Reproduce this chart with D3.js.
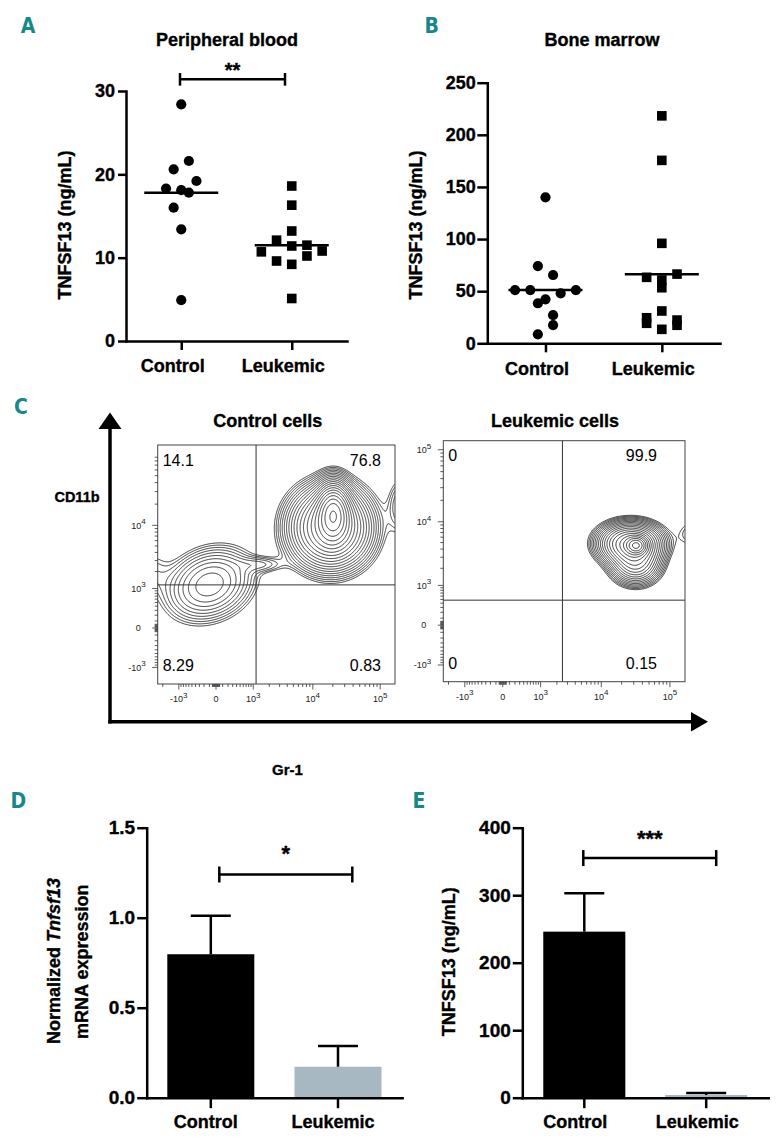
<!DOCTYPE html>
<html>
<head>
<meta charset="utf-8">
<script src="https://cdn.jsdelivr.net/npm/d3@7/dist/d3.min.js"></script>
<style>
  html,body{margin:0;padding:0;background:#fff;}
  svg{display:block;}
  .heavy{stroke:#000;stroke-width:0.35px;paint-order:stroke;}
</style>
</head>
<body>
<svg id="fig" width="782" height="1147" xmlns="http://www.w3.org/2000/svg"></svg>
<script>
// ================= DATA =================
const categories = ["Control", "Leukemic"];

// A – Peripheral blood, TNFSF13 (ng/mL)
const pbControl  = [4.9, 13.4, 16.0, 17.8, 18.3, 18.1, 19.2, 20.6, 21.6, 28.4];
const pbLeukemic = [5.1, 9.6, 9.2, 10.2, 10.7, 12.1, 11.4, 11.5, 10.8, 13.2, 16.3, 18.6];
const pbCentral  = [17.8, 11.5];
const pbTicks    = [0, 10, 20, 30];

// B – Bone marrow, TNFSF13 (ng/mL)
const bmControl  = [8.6, 17.5, 38.4, 27.0, 51.1, 51.1, 42.2, 47.9, 51.1, 74.1, 65.5, 140];
const bmLeukemic = [19.2, 13.4, 17.3, 24.5, 31.0, 22.3, 53.3, 63.3, 60.7, 66.4, 95.9, 175.5, 218.2];
const bmCentral  = [51.2, 66.3];
const bmTicks    = [0, 50, 100, 150, 200, 250];

// C – flow cytometry (Gr-1 vs CD11b)
const flowTitles   = ["Control cells", "Leukemic cells"];
const quadControl  = ["14.1", "76.8", "8.29", "0.83"];   // UL, UR, LL, LR
const quadLeukemic = ["0", "99.9", "0", "0.15"];
const gateControl  = [1140, 1170];                       // Gr-1 gate, CD11b gate
const gateLeukemic = [2480, 480];
const flowXTicks         = [-1000, 0, 1000, 10000, 100000];
const flowYTicksControl  = [-1000, 0, 1000, 10000];
const flowYTicksLeukemic = [-1000, 0, 1000, 10000, 100000];
const flowXDomain = [-2450, 165000];
const flowYDomain = [-1970, 133000];
// cell populations (centre intensities, spread in log units)
const popsControl = [
  {gr1: 18000,  cd11b: 9470,  sx: 0.74, sy: 0.70, angle: 0,  w: 1.00},
  {gr1: 20100,  cd11b: 15480, sx: 0.30, sy: 0.51, angle: 0,  w: 1.30},
  {gr1: -106,   cd11b: 1217,  sx: 0.87, sy: 0.62, angle: 24, w: 0.30},
  {gr1: 1481,   cd11b: 2653,  sx: 0.47, sy: 0.16, angle: 0,  w: 0.07},
  {gr1: 195000, cd11b: 19450, sx: 0.27, sy: 0.57, angle: 0,  w: 0.10},
  {gr1: -3280,  cd11b: 2120,  sx: 0.40, sy: 0.50, angle: 0,  w: 0.05}
];
const popsLeukemic = [
  {gr1: 26450,  cd11b: 4921, sx: 0.56, sy: 0.35, angle: 0, w: 1.00},
  {gr1: 31500,  cd11b: 2350, sx: 0.45, sy: 0.36, angle: 0, w: 0.45},
  {gr1: 32350,  cd11b: 4600, sx: 0.20, sy: 0.16, angle: 0, w: 1.20},
  {gr1: 208000, cd11b: 6890, sx: 0.33, sy: 0.30, angle: 0, w: 0.07}
];

// D – Normalized Tnfsf13 mRNA expression (mean, SEM)
const mrnaMean  = [0.797, 0.172];
const mrnaSem   = [0.214, 0.115];
const mrnaTicks = [0, 0.5, 1.0, 1.5];

// E – TNFSF13 (ng/mL) (mean, SEM)
const protMean  = [246, 4];
const protSem   = [57, 3];
const protTicks = [0, 100, 200, 300, 400];

const sigA = {label: "**",  value: 31.4};
const sigD = {label: "*",   value: 1.24};
const sigE = {label: "***", value: 355};

// ================= DRAWING =================
const svg = d3.select("#fig");
const FONT = '"Liberation Sans", Arial, Helvetica, sans-serif';
const TEAL = "#17888a";
const GREY_BAR = "#a8b8c2";
svg.append("rect").attr("width", 782).attr("height", 1147).attr("fill", "#fff");

function letter(t, cx, cy) {
  svg.append("text").attr("x", cx).attr("y", cy + 7.5).attr("text-anchor", "middle")
    .attr("font-family", '"Liberation Sans Narrow","DejaVu Sans Condensed","Liberation Sans",sans-serif')
    .attr("font-weight", "bold").attr("font-size", 21).attr("fill", TEAL).text(t);
}
function label(x, y, s, o = {}) {
  const w = o.weight || "bold";
  return svg.append("text").attr("x", x).attr("y", y)
    .attr("class", w === "bold" ? "heavy" : null)
    .attr("text-anchor", o.anchor || "middle")
    .attr("font-family", FONT).attr("font-size", o.size || 18)
    .attr("font-weight", w).attr("fill", o.fill || "#000").text(s);
}
function ylabel(cx, cy, s, size) {
  return svg.append("text").attr("transform", `translate(${cx},${cy}) rotate(-90)`)
    .attr("class", "heavy")
    .attr("dy", "0.35em").attr("text-anchor", "middle")
    .attr("font-family", FONT).attr("font-size", size || 18).attr("font-weight", "bold").text(s);
}
function styleAxis(g, fs, sw) {
  g.attr("font-family", FONT).attr("font-size", fs).attr("font-weight", "bold");
  g.select(".domain").attr("stroke", "#000").attr("stroke-width", sw).attr("stroke-linecap", "square");
  g.selectAll(".tick line").attr("stroke", "#000").attr("stroke-width", sw);
  g.selectAll(".tick text").attr("fill", "#000").attr("class", "heavy");
}
function bracket(x1, x2, yb, cap, txt, starCy, fs) {
  const g = svg.append("g").attr("stroke", "#000").attr("stroke-width", 2.5);
  g.append("line").attr("x1", x1).attr("x2", x2).attr("y1", yb).attr("y2", yb);
  g.append("line").attr("x1", x1).attr("x2", x1).attr("y1", yb - cap).attr("y2", yb + cap);
  g.append("line").attr("x1", x2).attr("x2", x2).attr("y1", yb - cap).attr("y2", yb + cap);
  label((x1 + x2) / 2, starCy + 0.57 * fs, txt, {size: fs});
}
// centred row layout of points sharing a value band
function swarm(vals, y, binPx, offPx, step) {
  const base = y(0);
  const keys = vals.map(v => Math.floor((base - y(v) - offPx) / binPx));
  const groups = d3.group(d3.range(vals.length), i => keys[i]);
  const off = new Array(vals.length).fill(0);
  for (const [, idx] of groups) idx.forEach((i, j) => off[i] = (j - (idx.length - 1) / 2) * step);
  return off;
}

function scatterPanel(o) {
  const x = d3.scalePoint().domain(categories).range(o.xr).padding(0.5);
  const y = d3.scaleLinear().domain([0, o.ticks[o.ticks.length - 1]]).range(o.yr);
  const gy = svg.append("g").attr("transform", `translate(${o.xr[0]},0)`)
    .call(d3.axisLeft(y).tickValues(o.ticks).tickSize(o.tl).tickSizeOuter(0).tickPadding(o.tp).tickFormat(d3.format("d")));
  styleAxis(gy, 18, 2.5);
  const gx = svg.append("g").attr("transform", `translate(0,${o.yr[0]})`)
    .call(d3.axisBottom(x).tickSize(9).tickSizeOuter(0).tickPadding(9.5));
  styleAxis(gx, 18, 2.5);
  gx.selectAll(".tick text").attr("dx", o.labDx);
  o.series.forEach((vals, k) => {
    const cx = x(categories[k]);
    const offs = swarm(vals, y, 20.8, o.binOff, 15.2);
    const g = svg.append("g").attr("fill", "#000");
    vals.forEach((v, i) => {
      if (k === 0) g.append("circle").attr("cx", cx + offs[i]).attr("cy", y(v)).attr("r", 5.1);
      else g.append("rect").attr("x", cx + offs[i] - 4.8).attr("y", y(v) - 4.8).attr("width", 9.6).attr("height", 9.6);
    });
    svg.append("line").attr("x1", cx - 37).attr("x2", cx + 37)
      .attr("y1", y(o.central[k])).attr("y2", y(o.central[k]))
      .attr("stroke", "#000").attr("stroke-width", 2.5);
  });
  label(o.titleX, o.titleY + 6.4, o.title, {size: 18});
  ylabel(o.ylx, o.yly, "TNFSF13 (ng/mL)", 18);
  return {x, y};
}

function barPanel(o) {
  const x = d3.scaleBand().domain(categories).range(o.xr).paddingInner(o.pi).paddingOuter(o.po);
  const y = d3.scaleLinear().domain([0, o.ticks[o.ticks.length - 1]]).range(o.yr);
  svg.append("g").selectAll("rect").data(categories).join("rect")
    .attr("x", c => x(c)).attr("width", x.bandwidth())
    .attr("y", (c, i) => y(o.mean[i])).attr("height", (c, i) => y(0) - y(o.mean[i]))
    .attr("fill", (c, i) => i ? GREY_BAR : "#000");
  const eg = svg.append("g").attr("stroke", "#000").attr("stroke-width", 2.5);
  categories.forEach((c, i) => {
    const cx = x(c) + x.bandwidth() / 2;
    const top = y(o.mean[i] + o.sem[i]);
    eg.append("line").attr("x1", cx).attr("x2", cx).attr("y1", y(o.mean[i])).attr("y2", top);
    eg.append("line").attr("x1", cx - 20).attr("x2", cx + 20).attr("y1", top).attr("y2", top);
  });
  const gy = svg.append("g").attr("transform", `translate(${o.xr[0]},0)`)
    .call(d3.axisLeft(y).tickValues(o.ticks).tickSize(9.5).tickSizeOuter(0).tickPadding(2).tickFormat(o.fmt));
  styleAxis(gy, 19, 2.5);
  const gx = svg.append("g").attr("transform", `translate(0,${o.yr[0]})`)
    .call(d3.axisBottom(x).tickSize(10.5).tickSizeOuter(0).tickPadding(7.2));
  styleAxis(gx, 18, 2.5);
  gx.selectAll(".tick text").attr("dx", o.labDx);
  const c0 = x(categories[0]) + x.bandwidth() / 2, c1 = x(categories[1]) + x.bandwidth() / 2;
  bracket(c0 + o.bx[0], c1 + o.bx[1], y(o.sig.value), 8, o.sig.label, y(o.sig.value) - o.starUp, 22);
  return {x, y};
}

function expLabel(sel, v) {
  if (v === 0) { sel.text("0"); return; }
  sel.append("tspan").text((v < 0 ? "-" : "") + "10");
  sel.append("tspan").attr("dy", -4.5).attr("font-size", 8).text(Math.round(Math.log10(Math.abs(v))));
}

function flowPlot(o) {
  const box = o.box;
  const x = d3.scaleSymlog().constant(400).domain(flowXDomain).range([box.x, box.x + box.w]);
  const y = d3.scaleSymlog().constant(400).domain(flowYDomain).range([box.y + box.h, box.y]);
  const tf = v => Math.sign(v) * Math.log1p(Math.abs(v) / 400);
  const kx = box.w / (tf(flowXDomain[1]) - tf(flowXDomain[0]));
  const ky = box.h / (tf(flowYDomain[1]) - tf(flowYDomain[0]));

  // density grid + contour lines
  const m = 10, x0 = box.x - m, y0 = box.y - m;
  const nx = Math.ceil(box.w) + 2 * m, ny = Math.ceil(box.h) + 2 * m;
  const comps = o.pops.map(p => {
    const a = p.angle * Math.PI / 180;
    return {cx: x(p.gr1), cy: y(p.cd11b), sx: p.sx * kx, sy: p.sy * ky, c: Math.cos(a), s: Math.sin(a), w: p.w};
  });
  const vals = new Float64Array(nx * ny);
  for (let j = 0; j < ny; j++) for (let i = 0; i < nx; i++) {
    const px = x0 + i, py = y0 + j;
    let d = 0;
    for (const q of comps) {
      const dx = px - q.cx, dy = -(py - q.cy);
      const u = dx * q.c + dy * q.s, v = -dx * q.s + dy * q.c;
      d += q.w * Math.exp(-(u * u / (2 * q.sx * q.sx) + v * v / (2 * q.sy * q.sy)));
    }
    vals[j * nx + i] = d;
  }
  const thr = d3.range(24).map(i => 0.04 * Math.pow(1.23, i));
  const cs = d3.contours().size([nx, ny]).thresholds(thr)(vals);
  const clipId = "clip" + o.id;
  svg.append("clipPath").attr("id", clipId).append("rect")
    .attr("x", box.x).attr("y", box.y).attr("width", box.w).attr("height", box.h);
  svg.append("g").attr("clip-path", `url(#${clipId})`)
    .append("g").attr("transform", `translate(${x0},${y0})`)
    .selectAll("path").data(cs).join("path")
    .attr("d", d3.geoPath()).attr("fill", "none").attr("stroke", "#111").attr("stroke-width", 0.8);

  // gates
  const gg = svg.append("g").attr("stroke", "#333").attr("stroke-width", 1);
  gg.append("line").attr("x1", x(o.gate[0])).attr("x2", x(o.gate[0])).attr("y1", box.y).attr("y2", box.y + box.h);
  gg.append("line").attr("x1", box.x).attr("x2", box.x + box.w).attr("y1", y(o.gate[1])).attr("y2", y(o.gate[1]));
  // frame
  svg.append("rect").attr("x", box.x).attr("y", box.y).attr("width", box.w).attr("height", box.h)
    .attr("fill", "none").attr("stroke", "#444").attr("stroke-width", 1);

  // ticks
  const minor = [];
  [10, 20, 30, 40, 50].forEach(v => minor.push(v, -v));
  for (let k = 1; k <= 9; k++) minor.push(100 * k, -100 * k);
  for (let k = 2; k <= 9; k++) minor.push(1000 * k, -1000 * k, 10000 * k, 100000 * k);
  const tg = svg.append("g").attr("stroke", "#333").attr("stroke-width", 0.8);
  const inX = v => v > flowXDomain[0] && v < flowXDomain[1];
  const inY = v => v > flowYDomain[0] && v < flowYDomain[1];
  minor.filter(inX).forEach(v => tg.append("line").attr("x1", x(v)).attr("x2", x(v)).attr("y1", box.y + box.h).attr("y2", box.y + box.h + 3));
  minor.filter(inY).forEach(v => tg.append("line").attr("y1", y(v)).attr("y2", y(v)).attr("x1", box.x).attr("x2", box.x - 3));
  flowXTicks.filter(inX).forEach(v => tg.append("line").attr("x1", x(v)).attr("x2", x(v)).attr("y1", box.y + box.h).attr("y2", box.y + box.h + 5.5));
  o.yTicks.filter(inY).forEach(v => tg.append("line").attr("y1", y(v)).attr("y2", y(v)).attr("x1", box.x).attr("x2", box.x - 5.5));

  flowXTicks.forEach(v => {
    const t = svg.append("text").attr("x", x(v)).attr("y", box.y + box.h + 18)
      .attr("text-anchor", "middle").attr("font-family", FONT).attr("font-size", 9).attr("fill", "#222");
    expLabel(t, v);
  });
  o.yTicks.forEach(v => {
    const t = svg.append("text").attr("x", box.x - 12).attr("y", y(v) + 3.3).attr("dx", v === 0 ? -5 : 0)
      .attr("text-anchor", "end").attr("font-family", FONT).attr("font-size", 9).attr("fill", "#222");
    expLabel(t, v);
  });

  // quadrant frequencies
  const q = o.quad, fs = 16;
  label(box.x + 5, box.y + 15 + 5.7, q[0], {anchor: "start", size: fs, weight: "normal"});
  label(o.qRight, box.y + 15 + 5.7, q[1], {anchor: "end", size: fs, weight: "normal"});
  label(box.x + 5, box.y + box.h - 18.3 + 5.7, q[2], {anchor: "start", size: fs, weight: "normal"});
  label(o.qRight, box.y + box.h - 18.3 + 5.7, q[3], {anchor: "end", size: fs, weight: "normal"});
  // title
  label(o.titleX, 426.5, o.title, {size: 18});
}

// ---------- Panel A ----------
letter("A", 28, 25.7);
const pA = scatterPanel({
  xr: [126, 347], yr: [341, 91], ticks: pbTicks, tl: 8, tp: 3, labDx: -9,
  series: [pbControl, pbLeukemic], central: pbCentral, binOff: 3.67,
  title: "Peripheral blood", titleX: 227, titleY: 40, ylx: 65, yly: 225
});
bracket(pA.x("Control") - 1.25, pA.x("Leukemic") - 6.75, pA.y(sigA.value), 6.3, sigA.label, 66, 20);

// ---------- Panel B ----------
letter("B", 431.7, 25.7);
scatterPanel({
  xr: [487.3, 720], yr: [343.3, 82.7], ticks: bmTicks, tl: 10, tp: 1.5, labDx: -9,
  series: [bmControl, bmLeukemic], central: bmCentral, binOff: 0,
  title: "Bone marrow", titleX: 602, titleY: 40, ylx: 415.7, yly: 225
});

// ---------- Panel C ----------
letter("C", 21, 406);
// big axis arrows
svg.append("line").attr("x1", 110).attr("x2", 110).attr("y1", 427).attr("y2", 723.4)
  .attr("stroke", "#000").attr("stroke-width", 3.5);
svg.append("polygon").attr("points", "110,412.5 98.5,429 121.5,429").attr("fill", "#000");
svg.append("line").attr("x1", 108.3).attr("x2", 692).attr("y1", 721.7).attr("y2", 721.7)
  .attr("stroke", "#000").attr("stroke-width", 3.5);
svg.append("polygon").attr("points", "708,721.7 691,712 691,731.4").attr("fill", "#000");
label(77, 497 + 5.2, "CD11b", {size: 14.5});
label(287.5, 770 + 5.4, "Gr-1", {size: 15});

flowPlot({id: "ctl", box: {x: 157.7, y: 445, w: 237.3, h: 239}, pops: popsControl, gate: gateControl,
  quad: quadControl, yTicks: flowYTicksControl, qRight: 381, title: flowTitles[0], titleX: 267.7});
flowPlot({id: "leu", box: {x: 443.3, y: 440.7, w: 241.7, h: 241}, pops: popsLeukemic, gate: gateLeukemic,
  quad: quadLeukemic, yTicks: flowYTicksLeukemic, qRight: 657, title: flowTitles[1], titleX: 555});

// ---------- Panel D ----------
letter("D", 18.3, 800.5);
barPanel({
  xr: [146.7, 402.1], pi: 0.316, po: 0.162, yr: [1097.7, 827.7], ticks: mrnaTicks,
  fmt: d3.format(".1f"), mean: mrnaMean, sem: mrnaSem, labDx: -5,
  sig: sigD, bx: [8.5, 14.3], starUp: 26
});
{
  const t = svg.append("text").attr("transform", "translate(53.3,961) rotate(-90)")
    .attr("class", "heavy")
    .attr("dy", "0.35em").attr("text-anchor", "middle")
    .attr("font-family", FONT).attr("font-size", 18).attr("font-weight", "bold");
  t.append("tspan").text("Normalized ");
  t.append("tspan").attr("font-style", "italic").text("Tnfsf13");
  ylabel(81.7, 961.7, "mRNA expression", 18);
}

// ---------- Panel E ----------
letter("E", 419, 800.5);
barPanel({
  xr: [522.3, 768.2], pi: 0.327, po: 0.172, yr: [1097.7, 827.7], ticks: protTicks,
  fmt: d3.format("d"), mean: protMean, sem: protSem, labDx: -9,
  sig: sigE, bx: [-1, 10], starUp: 25
});
ylabel(448.3, 961.7, "TNFSF13 (ng/mL)", 18);
</script>
</body>
</html>
